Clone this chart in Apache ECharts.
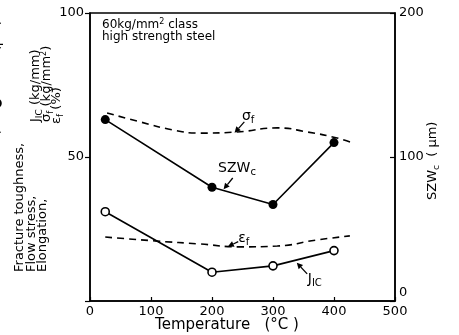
<!DOCTYPE html>
<html><head><meta charset="utf-8">
<script src="https://cdn.jsdelivr.net/npm/echarts@6/dist/echarts.min.js"></script>
<style>html,body{margin:0;padding:0;background:#fff}#c{width:459px;height:335px}</style>
</head><body><div id="c"></div><script>
// ---- data ----
const xTicks = [0, 100, 200, 300, 400, 500];
const leftTicks = [0, 50, 100];
const rightTicks = [0, 100, 200];
const tempPts = [25, 200, 300, 400];
const szwc = [126, 79, 67, 110];          // SZWc (μm), right axis
const jic = [31, 10, 12.2, 17.5];          // JIC (kg/mm), left axis
const sigmaTemp = [28, 82, 136, 180, 241, 307, 356, 405, 430];
const sigmaF = [65.3, 62.2, 59.4, 58.3, 58.7, 60.1, 58.7, 56.6, 54.9];
const epsTemp = [25, 110, 180, 246, 307, 372, 426];
const epsF = [22.2, 20.8, 19.8, 18.8, 19.1, 21.2, 22.6];

const FONT = 'DejaVu Sans';
const pair = (xs, ys) => xs.map((x, i) => [x, ys[i]]);

const chart = echarts.init(document.getElementById('c'), null, {renderer: 'canvas'});
const axisStyle = {lineStyle: {color: '#000', width: 1.5}};
const option = {
  animation: false,
  backgroundColor: '#fff',
  grid: {left: 90, top: 13, width: 305, height: 288, show: true, borderColor: '#000', borderWidth: 1.5, containLabel: false},
  xAxis: {
    type: 'value', min: xTicks[0], max: xTicks[xTicks.length - 1], interval: 100,
    axisLine: axisStyle, splitLine: {show: false},
    axisTick: {inside: true, length: 4, lineStyle: {color: '#000', width: 1.2}},
    axisLabel: {color: '#000', fontFamily: FONT, fontSize: 13, margin: 4}
  },
  yAxis: [
    {
      type: 'value', min: leftTicks[0], max: leftTicks[leftTicks.length - 1], interval: 50,
      axisLine: axisStyle, splitLine: {show: false},
      axisTick: {inside: false, length: 5, lineStyle: {color: '#000', width: 1.2}},
      axisLabel: {color: '#000', fontFamily: FONT, fontSize: 13, margin: 6,
        formatter: v => (v === 0 ? '' : String(v))}
    },
    {
      type: 'value', min: rightTicks[0], max: rightTicks[rightTicks.length - 1], interval: 100,
      position: 'right',
      axisLine: axisStyle, splitLine: {show: false},
      axisTick: {inside: true, length: 5, lineStyle: {color: '#000', width: 1.2}},
      axisLabel: {color: '#000', fontFamily: FONT, fontSize: 13, margin: 4,
        formatter: v => (v === 0 ? '{z|0}' : String(v)),
        rich: {z: {fontFamily: FONT, fontSize: 13, color: '#000', padding: [0, 0, 16, 0]}}}
    }
  ],
  series: [
    {name: 'SZWc', type: 'line', yAxisIndex: 1, data: pair(tempPts, szwc),
      symbol: 'circle', symbolSize: 9, itemStyle: {color: '#000'},
      lineStyle: {color: '#000', width: 1.6}},
    {name: 'JIC', type: 'line', yAxisIndex: 0, data: pair(tempPts, jic),
      symbol: 'circle', symbolSize: 8, itemStyle: {color: '#fff', borderColor: '#000', borderWidth: 1.6},
      lineStyle: {color: '#000', width: 1.6}},
    {name: 'sigma', type: 'line', yAxisIndex: 0, data: pair(sigmaTemp, sigmaF), smooth: 0.5,
      showSymbol: false, symbol: 'none', lineStyle: {color: '#000', width: 1.6, type: [7, 5]}},
    {name: 'eps', type: 'line', yAxisIndex: 0, data: pair(epsTemp, epsF), smooth: 0.5,
      showSymbol: false, symbol: 'none', lineStyle: {color: '#000', width: 1.6, type: [7, 5]}}
  ]
};
chart.setOption(option);

// ---- annotations (placed through the axes' own scales) ----
const px = (t, v) => chart.convertToPixel({xAxisIndex: 0, yAxisIndex: 0}, [t, v]);
function arrow(from, to) {
  const a = px(from[0], from[1]), b = px(to[0], to[1]);
  const ang = Math.atan2(b[1] - a[1], b[0] - a[0]);
  const L = 6, W = 3;
  const bx = b[0] - L * Math.cos(ang), by = b[1] - L * Math.sin(ang);
  const nx = -Math.sin(ang) * W, ny = Math.cos(ang) * W;
  return [
    {type: 'line', shape: {x1: a[0], y1: a[1], x2: bx, y2: by}, style: {stroke: '#000', lineWidth: 1.3}},
    {type: 'polygon', shape: {points: [[b[0], b[1]], [bx + nx, by + ny], [bx - nx, by - ny]]}, style: {fill: '#000'}}
  ];
}
function label(t, v, main, sub) {
  const p = px(t, v);
  return {type: 'text', x: p[0], y: p[1], style: {
    text: '{m|' + main + '}{s|' + sub + '}', align: 'left', verticalAlign: 'middle',
    rich: {
      m: {fontFamily: FONT, fontSize: 14, fill: '#000', color: '#000'},
      s: {fontFamily: FONT, fontSize: 10, fill: '#000', color: '#000', padding: [8, 0, 0, 0]}
    }}};
}
function vtext(x, y, str, size) {
  return {type: 'text', x: x, y: y, rotation: Math.PI / 2, style: {
    text: str, fontFamily: FONT, fontSize: size || 13, fill: '#000', align: 'left', verticalAlign: 'middle'}};
}
function vrich(x, y, main, sub, rest) {
  return {type: 'text', x: x, y: y, rotation: Math.PI / 2, style: {
    text: '{m|' + main + '}{s|' + sub + '}{r|' + rest + '}', align: 'left', verticalAlign: 'middle',
    rich: {
      m: {fontFamily: FONT, fontSize: 13, fill: '#000'},
      s: {fontFamily: FONT, fontSize: 9, fill: '#000', padding: [7, 0, 0, 0]},
      r: {fontFamily: FONT, fontSize: 13, fill: '#000'}
    }}};
}

const g = [];
g.push(label(249, 64.2, 'σ', 'f'));
g.push(...arrow([253, 62.2], [237, 58.4]));
g.push(label(210, 46.2, 'SZW', 'c'));
g.push(...arrow([234, 42.7], [219, 38.8]));
g.push(label(243, 21.8, 'ε', 'f'));
g.push(...arrow([243, 20.6], [226, 18.9]));
g.push(label(357, 7.4, 'J', 'IC'));
g.push(...arrow([356, 9.4], [339, 13.3]));

// header text
g.push({type: 'text', x: 102, y: 18, style: {text: '{a|60kg/mm}{b|2}{a| class}', rich: {
  a: {fontFamily: FONT, fontSize: 12, fill: '#000'},
  b: {fontFamily: FONT, fontSize: 8, fill: '#000', padding: [0, 0, 6, 0]}}}});
g.push({type: 'text', x: 102, y: 31, style: {text: 'high strength steel', fontFamily: FONT, fontSize: 12, fill: '#000'}});

// left axis title (three rotated lines)
g.push(vtext(20, 272, 'Fracture toughness,'));
g.push(vtext(32, 272, 'Flow stress,'));
g.push(vtext(43, 272, 'Elongation,'));
g.push(vrich(36, 122, 'J', 'IC', ' (kg/mm)'));
g.push({type: 'text', x: 47, y: 122, rotation: Math.PI / 2, style: {
  text: '{m|σ}{s|f}{r| (kg/mm}{u|2}{r|)}', align: 'left', verticalAlign: 'middle',
  rich: {
    m: {fontFamily: FONT, fontSize: 13, fill: '#000'},
    s: {fontFamily: FONT, fontSize: 9, fill: '#000', padding: [7, 0, 0, 0]},
    r: {fontFamily: FONT, fontSize: 13, fill: '#000'},
    u: {fontFamily: FONT, fontSize: 8, fill: '#000', padding: [0, 0, 7, 0]}
  }}});
g.push(vrich(57, 124, 'ε', 'f', ' (%)'));
// cut-off line at the far left edge
g.push(vtext(-3, 272, 'Stretched zone width,     ●  SZW  (μm)'));

// right axis title
g.push({type: 'text', x: 433, y: 200, rotation: Math.PI / 2, style: {
  text: '{m|SZW}{s|c}{r|  ( μm)}', align: 'left', verticalAlign: 'middle',
  rich: {
    m: {fontFamily: FONT, fontSize: 13, fill: '#000'},
    s: {fontFamily: FONT, fontSize: 9, fill: '#000', padding: [7, 0, 0, 0]},
    r: {fontFamily: FONT, fontSize: 13, fill: '#000'}
  }}});
// x axis title
g.push({type: 'text', x: 227, y: 325, style: {text: 'Temperature   (°C )', fontFamily: FONT, fontSize: 15,
  fill: '#000', align: 'center', verticalAlign: 'middle'}});

chart.setOption({graphic: g});
</script></body></html>
